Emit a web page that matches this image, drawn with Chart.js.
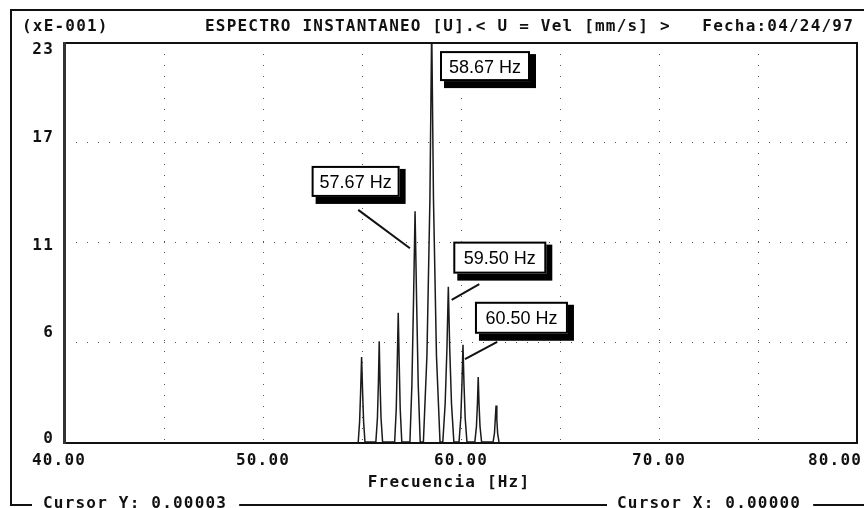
<!DOCTYPE html>
<html><head><meta charset="utf-8">
<script src="https://cdn.jsdelivr.net/npm/chart.js@4"></script>
<style>html,body{margin:0;padding:0;background:#fff;}canvas{display:block;}</style>
</head><body>
<canvas id="c" width="864" height="508"></canvas>
<script>
// ---- data ----
const freqHz = [
  54.81, 54.88, 54.93, 54.98, 55.03, 55.08, 55.15,
  55.70, 55.78, 55.83, 55.87, 55.91, 55.96, 56.04,
  56.65, 56.73, 56.78, 56.83, 56.88, 56.93, 57.01,
  57.42, 57.52, 57.60, 57.68, 57.76, 57.84, 57.94,
  58.10, 58.28, 58.43, 58.52, 58.61, 58.76, 58.94,
  59.08, 59.20, 59.29, 59.36, 59.43, 59.52, 59.64,
  59.90, 59.99, 60.05, 60.10, 60.15, 60.21, 60.30,
  60.70, 60.78, 60.83, 60.87, 60.91, 60.96, 61.04,
  61.62, 61.69, 61.73, 61.77, 61.81, 61.85, 61.92
];
const amplitude = [
  0, 1.2, 2.9, 4.9, 2.9, 1.2, 0,
  0, 1.4, 3.5, 5.8, 3.5, 1.4, 0,
  0, 1.9, 4.5, 7.45, 4.5, 1.9, 0,
  0, 3.3, 8.0, 13.3, 8.0, 3.3, 0,
  0, 5.0, 14.0, 24.0, 14.0, 5.0, 0,
  0, 2.2, 5.4, 8.95, 5.4, 2.2, 0,
  0, 1.4, 3.4, 5.6, 3.4, 1.4, 0,
  0, 0.9, 2.2, 3.75, 2.2, 0.9, 0,
  0, 0.5, 1.3, 2.1, 1.3, 0.5, 0
];
const xTickValues = [40, 50, 60, 70, 80];
const xTickLabels = ['40.00', '50.00', '60.00', '70.00', '80.00'];
const yTickValues = [0, 5.75, 11.5, 17.25, 23];
const yTickLabels = ['0', '6', '11', '17', '23'];
const cursorLabels = ['58.67 Hz', '57.67 Hz', '59.50 Hz', '60.50 Hz'];
const cursorHz = [58.51, 57.42, 59.53, 60.20];
const cursorAmp = [22.13, 11.17, 8.19, 4.78];
const headerLeft = '(xE-001)';
const headerTitle = 'ESPECTRO INSTANTANEO [U].< U = Vel [mm/s] >';
const headerDate = 'Fecha:04/24/97';
const xTitle = 'Frecuencia [Hz]';
const footerY = 'Cursor Y: 0.00003';
const footerX = 'Cursor X: 0.00000';

// ---- styling ----
const MONO = 'bold 16px "DejaVu Sans Mono", "Liberation Mono", monospace';
const LSP = '1.2px';
const BOXFONT = '18px "Liberation Sans", Arial, sans-serif';
const INK = '#111';
const boxStyle = [
  {dx: 8.5, dy: -7, w: 90, h: 30, lead: null},
  {dx: -98.3, dy: -82.3, w: 88, h: 31, lead: [-51.7, -38.3]},
  {dx: 1.6, dy: -58.3, w: 93, h: 32, lead: [27.6, -15.7]},
  {dx: 10, dy: -57.3, w: 93, h: 32, lead: [32.3, -17.3]}
];
const yLabelNudge = [1, -5, 7.5, -1, 10.5];

function txt(ctx, s, x, y, align) {
  ctx.font = MONO;
  try { ctx.letterSpacing = LSP; } catch (e) {}
  ctx.textAlign = align || 'left';
  ctx.textBaseline = 'alphabetic';
  ctx.fillStyle = INK;
  ctx.fillText(s, x, y);
}
function tw(ctx, s) {
  ctx.font = MONO;
  try { ctx.letterSpacing = LSP; } catch (e) {}
  return ctx.measureText(s).width;
}

const decor = {
  id: 'decor',
  afterDraw(chart) {
    const ctx = chart.ctx;
    const xs = chart.scales.x, ys = chart.scales.y;
    const a = chart.chartArea;
    ctx.save();
    ctx.fillStyle = INK;
    // plot box
    ctx.fillRect(a.left, a.top - 1, a.right - a.left, 2);
    ctx.fillRect(a.right - 1, a.top - 1, 2, a.bottom - a.top + 2);
    ctx.fillRect(a.left, a.bottom, a.right - a.left + 1, 2);
    ctx.fillStyle = '#333';
    ctx.fillRect(a.left - 2, a.top - 1, 3, a.bottom - a.top + 3);
    // y labels
    yTickValues.forEach((v, i) => {
      txt(ctx, yTickLabels[i], 54, ys.getPixelForValue(v) + yLabelNudge[i], 'right');
    });
    // x labels
    xTickValues.forEach((v, i) => {
      let px = xs.getPixelForValue(v);
      if (i === 0) px -= 6;
      if (i === xTickValues.length - 1) px -= 22;
      txt(ctx, xTickLabels[i], px, 465, 'center');
    });
    txt(ctx, xTitle, (xs.getPixelForValue(60) - 12), 487, 'center');
    // header
    txt(ctx, headerLeft, 22, 31);
    txt(ctx, headerTitle, 205, 31);
    txt(ctx, headerDate, 854, 31, 'right');
    // outer frame
    ctx.fillStyle = INK;
    ctx.fillRect(10, 9, 854, 2);
    ctx.fillRect(10, 9, 2, 497);
    const fy = 504;
    const wY = tw(ctx, footerY), wX = tw(ctx, footerX);
    const sY = 43, sX = 617;
    ctx.fillStyle = INK;
    ctx.fillRect(10, fy, 33 - 10 - 1, 2);
    ctx.fillRect(sY + wY + 12, fy, sX - 10 - (sY + wY + 12), 2);
    ctx.fillRect(sX + wX + 12, fy, 864 - (sX + wX + 12), 2);
    txt(ctx, footerY, sY, 508);
    txt(ctx, footerX, sX, 508);
    // cursor boxes
    cursorLabels.forEach((lab, i) => {
      const ax = xs.getPixelForValue(cursorHz[i]);
      const ay = ys.getPixelForValue(cursorAmp[i]);
      const st = boxStyle[i];
      const bx = ax + st.dx, by = ay + st.dy;
      if (st.lead) {
        ctx.strokeStyle = INK;
        ctx.lineWidth = 2;
        ctx.beginPath();
        ctx.moveTo(ax + st.lead[0], ay + st.lead[1]);
        ctx.lineTo(ax, ay);
        ctx.stroke();
      }
      ctx.fillStyle = '#000';
      ctx.fillRect(bx + 4, by + 3, st.w + 2, st.h + 4);
      ctx.fillStyle = '#fff';
      ctx.fillRect(bx, by, st.w, st.h);
      ctx.strokeStyle = '#000';
      ctx.lineWidth = 2;
      ctx.strokeRect(bx + 1, by + 1, st.w - 2, st.h - 2);
      ctx.font = BOXFONT;
      try { ctx.letterSpacing = '0px'; } catch (e) {}
      ctx.fillStyle = '#000';
      ctx.textAlign = 'center';
      ctx.textBaseline = 'alphabetic';
      ctx.fillText(lab, bx + st.w / 2, by + st.h / 2 + 6.5);
    });
    ctx.restore();
  }
};

const points = freqHz.map((f, i) => ({x: f, y: amplitude[i]}));
const gridColor = (ends) => (c) => (c.tick && ends.includes(c.tick.value)) ? 'rgba(0,0,0,0)' : '#555';

new Chart(document.getElementById('c').getContext('2d'), {
  type: 'line',
  data: {datasets: [{
    data: points, borderColor: '#1a1a1a', borderWidth: 1.5,
    pointRadius: 0, tension: 0, fill: false
  }]},
  options: {
    responsive: false, animation: false, devicePixelRatio: 1,
    layout: {padding: {left: 65, right: 7, top: 43, bottom: 66}},
    plugins: {legend: {display: false}, tooltip: {enabled: false}, title: {display: false}},
    scales: {
      x: {
        type: 'linear', min: 40, max: 80,
        ticks: {display: false, stepSize: 5},
        grid: {drawTicks: false, lineWidth: 1, color: gridColor([40, 80])},
        border: {display: false, dash: [1, 10]}
      },
      y: {
        type: 'linear', min: 0, max: 23,
        afterBuildTicks: (s) => { s.ticks = yTickValues.map(v => ({value: v})); },
        ticks: {display: false},
        grid: {drawTicks: false, lineWidth: 1, color: gridColor([0, 23])},
        border: {display: false, dash: [1, 10]}
      }
    }
  },
  plugins: [decor]
});
</script>
</body></html>
